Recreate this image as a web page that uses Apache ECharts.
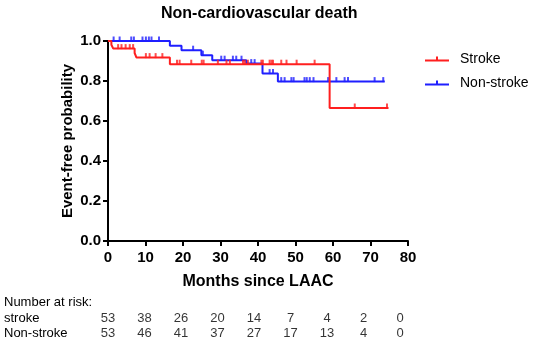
<!DOCTYPE html>
<html>
<head>
<meta charset="utf-8">
<script src="https://cdn.jsdelivr.net/npm/echarts@6/dist/echarts.min.js"></script>
<style>
  html, body { margin: 0; padding: 0; background: #fff; }
  #kmChart { width: 536px; height: 342px; }
</style>
</head>
<body>
<div id="kmChart"></div>
<script>
// Kaplan-Meier steps (months, survival after the drop)
var strokeTimes = [0, 0.9, 1.4, 7.1, 7.6, 16.5, 59.1];
var strokeSurv = [1.0, 0.981, 0.962, 0.94, 0.917, 0.884, 0.665];
var strokeEnd = 74.8;
var strokeCensored = [2.7, 3.6, 4.7, 5.8, 6.7, 10.1, 11.1, 12.7, 14.5, 18.4, 19.1, 22.2, 25.0, 25.5,
  29.3, 31.6, 32.5, 36.0, 36.5, 37.3, 40.9, 41.3, 43.1, 43.6, 44.0, 46.2, 47.6, 50.3, 55.1, 65.8, 74.4];

var nonStrokeTimes = [0, 16.5, 19.6, 24.9, 27.8, 36.9, 41.2, 45.3];
var nonStrokeSurv = [1.0, 0.976, 0.954, 0.929, 0.904, 0.887, 0.837, 0.797];
var nonStrokeEnd = 73.8;
var nonStrokeCensored = [1.5, 3.1, 6.2, 6.9, 9.2, 10.1, 10.9, 11.6, 13.6, 22.7, 25.3, 30.2, 31.1, 33.3,
  34.2, 35.6, 38.2, 39.1, 43.1, 44.0, 46.2, 47.1, 48.9, 49.5, 52.4, 53.0, 53.8, 54.8, 58.7, 60.9,
  63.1, 64.0, 71.1, 73.4];

// number at risk table
var riskTimes = [0, 10, 20, 30, 40, 50, 60, 70, 80];
var riskStroke = [53, 38, 26, 20, 14, 7, 4, 2, 0];
var riskNonStroke = [53, 46, 41, 37, 27, 17, 13, 4, 0];
var riskRows = ['stroke', 'Non-stroke'];

var redColor = '#ff1f1f';
var blueColor = '#1f1fff';
var font = 'Liberation Sans, Arial, sans-serif';

function stepData(times, surv, end) {
  var d = [];
  for (var i = 0; i < times.length; i++) d.push([times[i], surv[i]]);
  d.push([end, surv[surv.length - 1]]);
  return d;
}

function survAt(times, surv, t) {
  var s = surv[0];
  for (var i = 0; i < times.length; i++) {
    if (times[i] <= t) s = surv[i];
  }
  return s;
}

function censorData(cens, times, surv) {
  return cens.map(function (t) { return [t, survAt(times, surv, t)]; });
}

function riskData(counts, row) {
  var d = [];
  for (var i = 0; i < riskTimes.length; i++) d.push([riskTimes[i], row, counts[i]]);
  return d;
}

var kmChart = echarts.init(document.getElementById('kmChart'));

var option = {
  animation: false,
  backgroundColor: '#fff',
  title: {
    text: 'Non-cardiovascular death',
    left: 156,
    top: 1,
    textStyle: { fontFamily: font, fontSize: 16, fontWeight: 'bold', color: '#000' }
  },
  legend: {
    orient: 'vertical',
    left: 420,
    top: 47,
    itemWidth: 24,
    itemHeight: 5,
    itemGap: 10,
    icon: 'path://M0,3.5H24V5.5H0ZM11,0.5H13V3.5H11Z',
    data: ['Stroke', 'Non-stroke'],
    textStyle: { fontFamily: font, fontSize: 14, color: '#000', padding: [0, 0, 0, 6] }
  },
  graphic: [{
    type: 'text',
    left: 4,
    top: 296,
    style: { text: 'Number at risk:', font: '13px ' + font, fill: '#000' }
  }],
  grid: [
    { left: 108, top: 41, width: 300, height: 200 },
    { left: 108, top: 311, width: 292, height: 30 }
  ],
  xAxis: [{
    gridIndex: 0,
    type: 'value',
    min: 0,
    max: 80,
    interval: 10,
    name: 'Months since LAAC',
    nameLocation: 'middle',
    nameGap: 33,
    nameMoveOverlap: false,
    nameTextStyle: { fontFamily: font, fontSize: 16, fontWeight: 'bold', color: '#000' },
    axisLine: { lineStyle: { color: '#000', width: 2 } },
    axisTick: { length: 5, lineStyle: { color: '#000', width: 2 } },
    axisLabel: { margin: 9, fontFamily: font, fontSize: 15, fontWeight: 'bold', color: '#000' },
    splitLine: { show: false }
  }, {
    gridIndex: 1,
    type: 'value',
    min: 0,
    max: 80,
    show: false
  }],
  yAxis: [{
    gridIndex: 0,
    type: 'value',
    min: 0,
    max: 1,
    interval: 0.2,
    name: 'Event-free probability',
    nameLocation: 'middle',
    nameGap: 33,
    nameMoveOverlap: false,
    nameTextStyle: { fontFamily: font, fontSize: 15, fontWeight: 'bold', color: '#000' },
    axisLine: { show: true, lineStyle: { color: '#000', width: 2 } },
    axisTick: { show: true, length: 5, lineStyle: { color: '#000', width: 2 } },
    axisLabel: {
      margin: 7, fontFamily: font, fontSize: 15, fontWeight: 'bold', color: '#000',
      formatter: function (v) { return v.toFixed(1); }
    },
    splitLine: { show: false }
  }, {
    gridIndex: 1,
    type: 'category',
    inverse: true,
    data: riskRows,
    axisLine: { show: false },
    axisTick: { show: false },
    axisLabel: { interval: 0, align: 'left', margin: 104, fontFamily: font, fontSize: 13, color: '#000' }
  }],
  series: [
    {
      name: 'Non-stroke',
      type: 'line',
      step: 'end',
      showSymbol: false,
      data: stepData(nonStrokeTimes, nonStrokeSurv, nonStrokeEnd),
      itemStyle: { color: blueColor },
      lineStyle: { color: blueColor, width: 2 },
      z: 3
    },
    {
      name: 'Non-stroke censored',
      type: 'scatter',
      symbol: 'rect',
      symbolSize: [2, 5],
      symbolOffset: [0, -2],
      data: censorData(nonStrokeCensored, nonStrokeTimes, nonStrokeSurv),
      itemStyle: { color: blueColor },
      z: 3
    },
    {
      name: 'Stroke',
      type: 'line',
      step: 'end',
      showSymbol: false,
      data: stepData(strokeTimes, strokeSurv, strokeEnd),
      itemStyle: { color: redColor },
      lineStyle: { color: redColor, width: 2 },
      z: 4
    },
    {
      name: 'Stroke censored',
      type: 'scatter',
      symbol: 'rect',
      symbolSize: [2, 5],
      symbolOffset: [0, -2],
      data: censorData(strokeCensored, strokeTimes, strokeSurv),
      itemStyle: { color: redColor },
      z: 4
    },
    {
      name: 'risk stroke',
      type: 'scatter',
      xAxisIndex: 1,
      yAxisIndex: 1,
      symbolSize: 0,
      data: riskData(riskStroke, 0),
      label: {
        show: true, position: 'inside', fontFamily: font, fontSize: 13, color: '#000',
        formatter: function (p) { return p.value[2]; }
      }
    },
    {
      name: 'risk non-stroke',
      type: 'scatter',
      xAxisIndex: 1,
      yAxisIndex: 1,
      symbolSize: 0,
      data: riskData(riskNonStroke, 1),
      label: {
        show: true, position: 'inside', fontFamily: font, fontSize: 13, color: '#000',
        formatter: function (p) { return p.value[2]; }
      }
    }
  ]
};

kmChart.setOption(option);
</script>
</body>
</html>
